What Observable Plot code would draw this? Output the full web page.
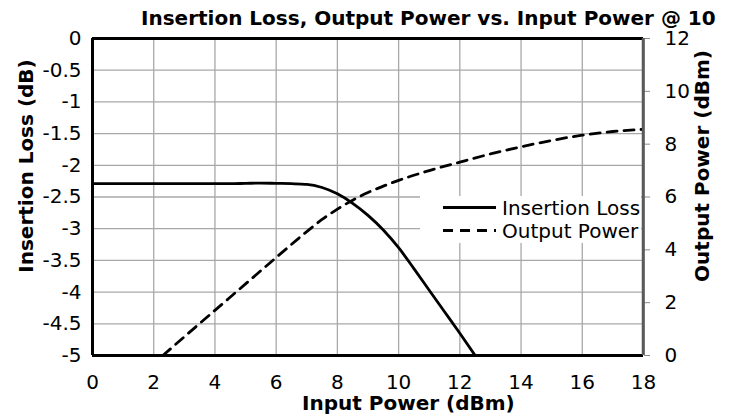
<!DOCTYPE html>
<html>
<head>
<meta charset="utf-8">
<script src="https://cdn.jsdelivr.net/npm/d3@7"></script>
<script src="https://cdn.jsdelivr.net/npm/@observablehq/plot@0.6"></script>
<style>
  html, body { margin: 0; padding: 0; background: #fff; }
  svg { display: block; }
</style>
</head>
<body>
<div id="chart"></div>
<script>
// ---- data ----
const title = "Insertion Loss, Output Power vs. Input Power @ 10";
const xLabel = "Input Power (dBm)";
const yLeftLabel = "Insertion Loss (dB)";
const yRightLabel = "Output Power (dBm)";
const seriesNames = ["Insertion Loss", "Output Power"];

const xTicks = [0, 2, 4, 6, 8, 10, 12, 14, 16, 18];
const yLeftTicks = [0, -0.5, -1, -1.5, -2, -2.5, -3, -3.5, -4, -4.5, -5];
const yRightTicks = [0, 2, 4, 6, 8, 10, 12];

const ilInput = [0, 0.5, 1, 1.5, 2, 2.5, 3, 3.5, 4, 4.5, 5, 5.5, 6, 6.5, 7, 7.5, 8, 8.5, 9, 9.5, 10, 10.5, 11, 11.5, 12, 12.5];
const ilValue = [-2.29, -2.29, -2.29, -2.29, -2.29, -2.29, -2.29, -2.29, -2.29, -2.29, -2.285, -2.28, -2.285, -2.29, -2.30, -2.35, -2.45, -2.60, -2.79, -3.02, -3.30, -3.63, -3.97, -4.31, -4.65, -5.0];

const opInput = [2.3, 3, 4, 5, 6, 7, 7.5, 8, 8.5, 9, 9.5, 10, 11, 12, 13, 14, 15, 16, 17, 18];
const opValue = [0.0, 0.71, 1.71, 2.71, 3.71, 4.69, 5.15, 5.54, 5.88, 6.17, 6.41, 6.63, 7.0, 7.32, 7.63, 7.9, 8.14, 8.34, 8.48, 8.56];

// ---- dual axis mapping (right 0..12 onto left -5..0) ----
const leftDomain = [-5, 0];
const rightDomain = [0, 12];
const toLeft = v => leftDomain[0] + (v - rightDomain[0]) * (leftDomain[1] - leftDomain[0]) / (rightDomain[1] - rightDomain[0]);
const fromLeft = v => rightDomain[0] + (v - leftDomain[0]) * (rightDomain[1] - rightDomain[0]) / (leftDomain[1] - leftDomain[0]);

const ilData = ilInput.map((x, i) => ({x, y: ilValue[i]}));
const opData = opInput.map((x, i) => ({x, y: toLeft(opValue[i])}));

const FONT = "DejaVu Sans";
const gridColor = "#a8a8a8";
const DASH = "10,7";
const LW = 2.8;

const plot = Plot.plot({
  width: 736,
  height: 415,
  marginLeft: 92,
  marginRight: 93,
  marginTop: 38,
  marginBottom: 60,
  style: {fontFamily: FONT, fontSize: "20px", color: "black", background: "white", overflow: "visible"},
  x: {domain: [0, 18]},
  y: {domain: leftDomain},
  marks: [
    Plot.gridX(xTicks, {stroke: gridColor, strokeOpacity: 1, strokeWidth: 1.3}),
    Plot.gridY(yLeftTicks, {stroke: gridColor, strokeOpacity: 1, strokeWidth: 1.3}),
    Plot.line(ilData, {x: "x", y: "y", curve: "monotone-x", stroke: "black", strokeWidth: LW, clip: true}),
    Plot.line(opData, {x: "x", y: "y", curve: "monotone-x", stroke: "black", strokeWidth: LW, strokeDasharray: DASH, clip: true}),
    Plot.axisX(xTicks, {tickSize: 0, tickPadding: 19, tickFormat: d => String(d), label: null, fontSize: 20}),
    Plot.axisY(yLeftTicks, {anchor: "left", tickSize: 0, tickPadding: 11, tickFormat: d => String(d), label: null, fontSize: 20}),
    Plot.axisY(yRightTicks.map(toLeft), {anchor: "right", tickSize: 6, tickPadding: 15, stroke: "#8c8c8c", fill: "black",
      tickFormat: d => String(Math.round(fromLeft(d))), label: null, fontSize: 20}),
    Plot.ruleX([18], {stroke: "#5a5a5a", strokeWidth: 2.5}),
    Plot.ruleX([0], {stroke: "black", strokeWidth: 3}),
    Plot.ruleY([-5, 0], {stroke: "black", strokeWidth: 3})
  ]
});

document.getElementById("chart").appendChild(plot);

// ---- annotations (title, axis labels, legend) ----
const svg = d3.select(plot);
const xs = plot.scale("x");
const ys = plot.scale("y");
const frameRight = xs.apply(18);

svg.append("text")
  .attr("x", 141).attr("y", 25)
  .attr("text-anchor", "start")
  .attr("font-family", FONT).attr("font-weight", "bold").attr("font-size", 20)
  .attr("fill", "black")
  .text(title);

svg.append("text")
  .attr("x", 302).attr("y", 410)
  .attr("text-anchor", "start")
  .attr("font-family", FONT).attr("font-weight", "bold").attr("font-size", 20)
  .attr("fill", "black")
  .text(xLabel);

svg.append("text")
  .attr("transform", "translate(33,166) rotate(-90)")
  .attr("text-anchor", "middle")
  .attr("font-family", FONT).attr("font-weight", "bold").attr("font-size", 20)
  .attr("fill", "black")
  .text(yLeftLabel);

svg.append("text")
  .attr("transform", "translate(709,166) rotate(-90)")
  .attr("text-anchor", "middle")
  .attr("font-family", FONT).attr("font-weight", "bold").attr("font-size", 20)
  .attr("fill", "black")
  .text(yRightLabel);

// legend
const lg = svg.append("g");
lg.append("rect")
  .attr("x", frameRight - 223).attr("y", 196)
  .attr("width", 221).attr("height", 47)
  .attr("fill", "white");
const rows = [
  {name: seriesNames[0], dash: null, y: 207.5},
  {name: seriesNames[1], dash: DASH, y: 230.5}
];
rows.forEach(r => {
  lg.append("line")
    .attr("x1", frameRight - 200).attr("x2", frameRight - 147)
    .attr("y1", r.y).attr("y2", r.y)
    .attr("stroke", "black").attr("stroke-width", LW)
    .attr("stroke-dasharray", r.dash);
  lg.append("text")
    .attr("x", frameRight - 141).attr("y", r.y + 7)
    .attr("text-anchor", "start")
    .attr("font-family", FONT).attr("font-size", 20)
    .attr("fill", "black")
    .text(r.name);
});
// redraw right frame edge above legend
svg.append("line")
  .attr("x1", frameRight).attr("x2", frameRight)
  .attr("y1", ys.apply(0)).attr("y2", ys.apply(-5))
  .attr("stroke", "#5a5a5a").attr("stroke-width", 2.5);
</script>
</body>
</html>
